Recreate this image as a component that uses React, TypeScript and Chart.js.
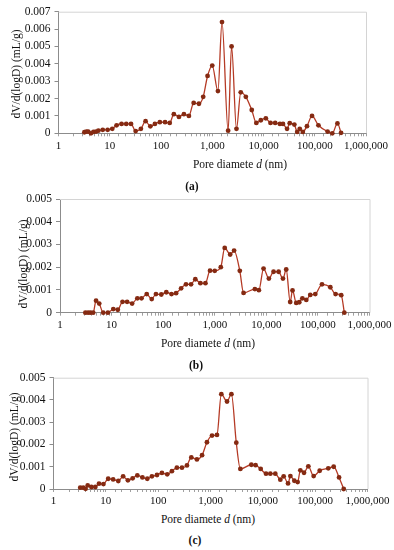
import React, { useEffect, useRef } from "react";
import { Chart, registerables } from "chart.js";

Chart.register(...registerables);

// ---- Data (pore diameter in nm, dV/d(logD) in mL/g) ----
const diametersA = [3.2, 3.5, 3.8, 4.3, 4.8, 5.4, 6, 7.3, 9.1, 11.2, 13.6, 17, 21, 26, 32, 40.5, 50, 62, 76, 95, 120, 148, 178, 224, 280, 350, 434, 550, 666, 810, 1000, 1290, 1550, 2040, 2380, 2970, 3600, 4520, 5900, 7250, 8870, 11100, 13700, 16900, 20900, 24000, 28800, 32500, 40000, 45500, 51000, 58500, 70500, 88500, 118000, 178000, 220000, 277000, 326000];
const valuesA = [0.00006, 0.0001, 0.0001, 0, 0.00008, 0.0001, 0.00015, 0.0002, 0.0002, 0.00026, 0.00046, 0.00054, 0.00054, 0.00054, 0.00013, 0.00026, 0.0007, 0.0004, 0.00054, 0.00064, 0.00064, 0.0006, 0.0011, 0.00094, 0.0011, 0.001, 0.00175, 0.0017, 0.0021, 0.0033, 0.0039, 0.00243, 0.0064, 0.00015, 0.005, 0.00026, 0.00236, 0.0021, 0.00134, 0.0006, 0.00075, 0.00086, 0.0006, 0.0006, 0.00054, 0.00054, 0.00026, 0.00058, 0.0005, 0.00008, 0.00026, 0.00008, 0.00041, 0.001, 0.00046, 0.0001, 0, 0.00057, 0.00003];

const diametersB = [3.1, 3.5, 3.9, 4.4, 5, 5.76, 6.9, 8.5, 10.8, 13.2, 16.3, 20, 25, 31.6, 38, 48, 60, 72.5, 92, 115, 145, 178, 223, 277, 347, 420, 527, 660, 810, 1000, 1310, 1560, 1990, 2370, 3060, 3620, 6000, 7170, 8830, 11200, 13800, 17300, 21000, 24300, 29000, 32200, 38000, 43500, 50000, 59500, 71000, 89000, 120000, 174000, 220000, 283000, 325000];
const valuesB = [0, 0, 0, 0, 0.00053, 0.0004, 0, 0, 0.00016, 0.00013, 0.00048, 0.00048, 0.0004, 0.00063, 0.00063, 0.00082, 0.0006, 0.00082, 0.0008, 0.0009, 0.00082, 0.00086, 0.00107, 0.00125, 0.00125, 0.00147, 0.0013, 0.0013, 0.00185, 0.00184, 0.002, 0.00285, 0.00256, 0.00273, 0.00184, 0.00087, 0.00104, 0.00099, 0.00194, 0.0015, 0.0018, 0.0018, 0.0015, 0.0019, 0.00047, 0.00098, 0.00043, 0.00046, 0.00063, 0.00056, 0.00078, 0.00082, 0.00125, 0.00112, 0.00082, 0.00077, 0];

const diametersC = [3.24, 3.7, 4.1, 4.5, 5.3, 6.3, 7.4, 9, 11.1, 13.8, 17.3, 21.4, 26.4, 32.5, 40, 50, 62, 76, 95, 118, 149, 183, 228, 285, 355, 430, 550, 690, 855, 1070, 1330, 1610, 2070, 2510, 3110, 3720, 6030, 7270, 9100, 11500, 13900, 17300, 21600, 25000, 30300, 33600, 40000, 46300, 52100, 61200, 74100, 93600, 122000, 178000, 226000, 286000, 351000];
const valuesC = [0.00006, 0.00006, 0.00001, 0.00016, 0.00009, 0.00009, 0.00024, 0.00022, 0.00046, 0.00043, 0.00036, 0.00057, 0.00039, 0.00048, 0.00061, 0.00052, 0.00046, 0.00057, 0.00063, 0.00072, 0.00066, 0.0008, 0.00096, 0.00096, 0.00106, 0.00142, 0.00133, 0.00152, 0.0021, 0.0024, 0.00243, 0.00426, 0.00393, 0.00426, 0.00208, 0.0009, 0.00109, 0.00107, 0.0009, 0.00069, 0.00069, 0.00069, 0.00042, 0.00057, 0.00025, 0.00058, 0.00037, 0.00031, 0.00084, 0.00073, 0.00102, 0.00058, 0.00082, 0.00093, 0.001, 0.00052, 0];

const yMaxA = 0.007;
const yMaxB = 0.005;
const yMaxC = 0.005;
const panelLabels = ["(a)", "(b)", "(c)"];
const yTitle = "dV/d(logD) (mL/g)";
const xTitleMain = "Pore diamete ";
const xTitleVar = "d";
const xTitleUnit = " (nm)";

const FONT = "'Liberation Serif', 'Times New Roman', serif";
const LINE_COLOR = "#b53a25";
const POINT_COLOR = "#852a12";
const XH = 20;

type PanelCfg = {
  xs: number[]; ys: number[]; yMax: number;
  top: number; H: number; L: number; R: number; T: number; B: number;
};

const boxPlugin = {
  id: "topRightBox",
  beforeDatasetsDraw(chart: any) {
    const { ctx, chartArea: a } = chart;
    ctx.save();
    ctx.strokeStyle = "#d4d4d4";
    ctx.lineWidth = 1;
    ctx.beginPath();
    ctx.moveTo(a.left, a.top + 0.5);
    ctx.lineTo(a.right + 0.5, a.top + 0.5);
    ctx.lineTo(a.right + 0.5, a.bottom);
    ctx.stroke();
    ctx.restore();
  },
};

function Panel({ cfg }: { cfg: PanelCfg }) {
  const ref = useRef<HTMLCanvasElement | null>(null);
  useEffect(() => {
    if (!ref.current) return;
    const data = cfg.xs.map((x, i) => ({ x, y: cfg.ys[i] }));
    const chart = new Chart(ref.current, {
      type: "line",
      data: {
        datasets: [
          {
            data,
            borderColor: LINE_COLOR,
            borderWidth: 1.3,
            pointRadius: 2.4,
            pointBackgroundColor: POINT_COLOR,
            pointBorderColor: POINT_COLOR,
            pointBorderWidth: 0,
            cubicInterpolationMode: "monotone",
            clip: 4,
          } as any,
        ],
      },
      options: {
        responsive: false,
        animation: false,
        devicePixelRatio: 1,
        layout: {
          padding: {
            left: 0,
            top: cfg.T - cfg.top,
            right: 394 - cfg.R,
            bottom: cfg.top + cfg.H - cfg.B - XH,
          },
        },
        plugins: { legend: { display: false }, tooltip: { enabled: false } },
        scales: {
          x: {
            type: "logarithmic",
            min: 1,
            max: 1000000,
            afterFit: (s: any) => {
              s.height = XH;
              s.paddingLeft = 0;
              s.paddingRight = 0;
            },
            ticks: {
              autoSkip: false,
              maxRotation: 0,
              padding: 3,
              color: "#111",
              font: { family: FONT, size: 11 },
              callback: (v: any) => {
                const n = Number(v);
                const l = Math.log10(n);
                return Math.abs(l - Math.round(l)) < 1e-9 ? n.toLocaleString("en-US") : "";
              },
            },
            grid: { drawOnChartArea: false, drawTicks: true, tickLength: 3, color: "#a0a0a0" },
            border: { display: true, color: "#8c8c8c" },
          },
          y: {
            min: 0,
            max: cfg.yMax,
            afterFit: (s: any) => {
              s.width = cfg.L;
              s.paddingTop = 0;
              s.paddingBottom = 0;
            },
            ticks: {
              stepSize: 0.001,
              padding: 4,
              color: "#111",
              font: { family: FONT, size: 11.5 },
              callback: (v: any) => (Number(v) === 0 ? "0" : Number(v).toFixed(3)),
            },
            grid: { drawOnChartArea: false, drawTicks: true, tickLength: 4, color: "#8c8c8c" },
            border: { display: true, color: "#8c8c8c" },
          },
        },
      } as any,
      plugins: [boxPlugin],
    });
    return () => chart.destroy();
  }, [cfg]);
  return (
    <canvas
      ref={ref}
      width={394}
      height={cfg.H}
      style={{ position: "absolute", left: 0, top: cfg.top, width: 394, height: cfg.H }}
    />
  );
}

const panels: PanelCfg[] = [
  { xs: diametersA, ys: valuesA, yMax: yMaxA, top: 0, H: 160, L: 58.5, R: 366, T: 11.7, B: 133.3 },
  { xs: diametersB, ys: valuesB, yMax: yMaxB, top: 180, H: 160, L: 60, R: 369.5, T: 199, B: 312.7 },
  { xs: diametersC, ys: valuesC, yMax: yMaxC, top: 360, H: 150, L: 53.5, R: 367.5, T: 377.7, B: 489 },
];

const yTitlePos = [
  { x: 16, y: 73.5 },
  { x: 22.5, y: 264 },
  { x: 13.5, y: 437 },
];
const xTitlePos = [
  { x: 240, y: 164 },
  { x: 208, y: 342.5 },
  { x: 208, y: 518.5 },
];
const labelPos = [
  { x: 192, y: 186 },
  { x: 196, y: 365 },
  { x: 195, y: 540 },
];

export default function App() {
  const txt: React.CSSProperties = {
    position: "absolute",
    fontFamily: FONT,
    fontSize: 11.5,
    color: "#111",
    whiteSpace: "nowrap",
    lineHeight: "12px",
  };
  return (
    <div style={{ position: "fixed", left: 0, top: 0, width: 394, height: 550, background: "#fff", overflow: "hidden" }}>
      {panels.map((p, i) => (
        <Panel key={i} cfg={p} />
      ))}
      {yTitlePos.map((p, i) => (
        <div
          key={"yt" + i}
          style={{ ...txt, left: p.x, top: p.y, transform: "translate(-50%, -50%) rotate(-90deg)" }}
        >
          {yTitle}
        </div>
      ))}
      {xTitlePos.map((p, i) => (
        <div key={"xt" + i} style={{ ...txt, left: p.x, top: p.y, transform: "translate(-50%, -50%)" }}>
          {xTitleMain}
          <i>{xTitleVar}</i>
          {xTitleUnit}
        </div>
      ))}
      {labelPos.map((p, i) => (
        <div
          key={"lb" + i}
          style={{ ...txt, fontWeight: "bold", left: p.x, top: p.y, transform: "translate(-50%, -50%)" }}
        >
          {panelLabels[i]}
        </div>
      ))}
    </div>
  );
}
